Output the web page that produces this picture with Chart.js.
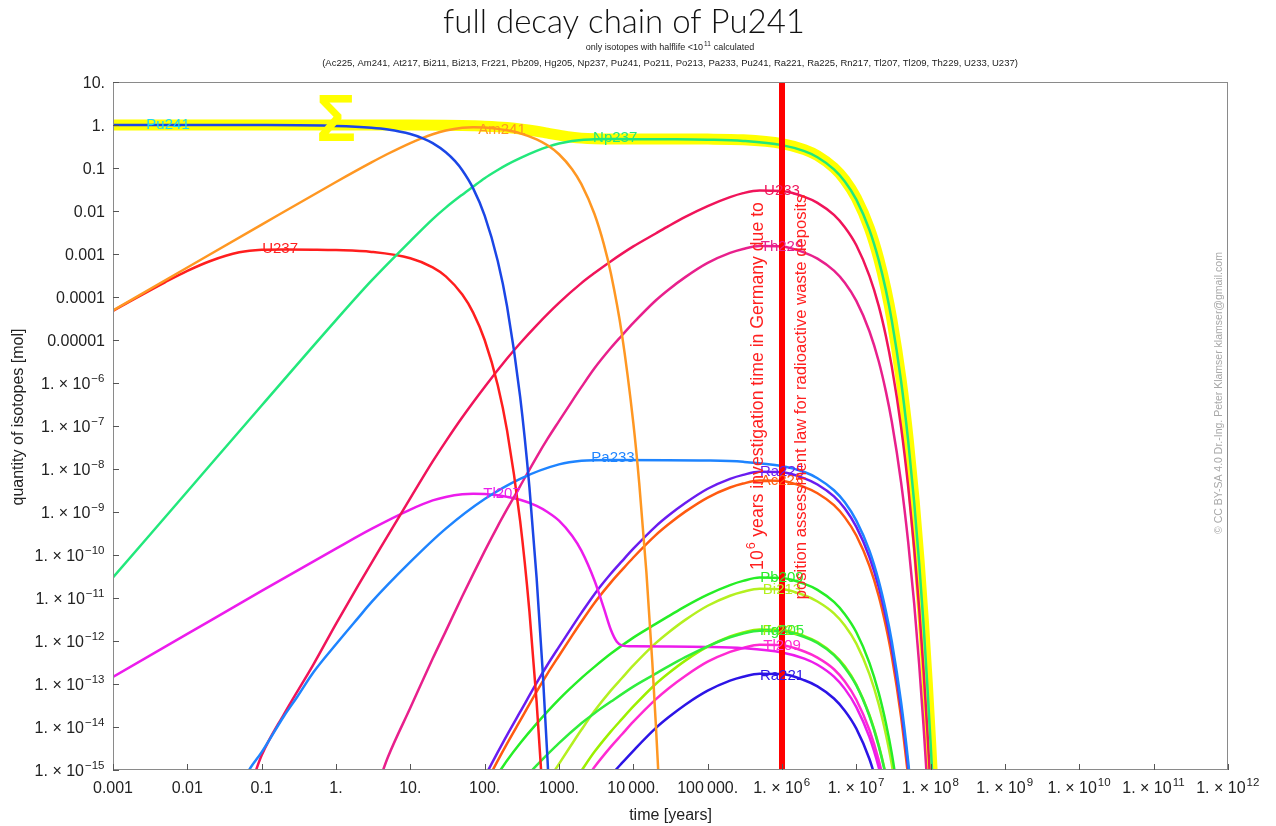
<!DOCTYPE html>
<html>
<head>
<meta charset="utf-8">
<title>full decay chain of Pu241</title>
<script src="https://cdn.jsdelivr.net/npm/chart.js@4.4.1/dist/chart.umd.min.js"></script>
<style>
  html, body { margin: 0; padding: 0; background: #fff; }
  canvas { display: block; }
</style>
</head>
<body>
<canvas id="chart" width="1276" height="826"></canvas>
<script>
// ---- data: [time in years, quantity in mol] ----
const sumAll = [[1e-3,1],[1,1],[10,1],[30,0.99],[50,0.975],[70,0.96],[100,0.94],[150,0.905],[200,0.87],[300,0.81],[500,0.715],[700,0.645],[1000,0.58],[1500,0.52],[2000,0.495],[3000,0.478],[5000,0.473],[1e4,0.472],[3e4,0.472],[1e5,0.47],[3e5,0.454],[1e6,0.37],[2e6,0.268],[3e6,0.194],[5e6,0.101],[7e6,0.053],[1e7,0.02],[1.5e7,3.95e-3],[2e7,7.8e-4],[2.5e7,1.55e-4],[3e7,3.06e-5],[4e7,1.2e-6],[5e7,4.7e-8],[6e7,1.85e-9],[7e7,7.2e-11],[8e7,2.8e-12],[9e7,1.1e-13],[1e8,4.4e-15],[1.1e8,1.7e-16]];
const pu241 = [[1e-3,1],[0.1,0.995],[1,0.953],[3,0.865],[5,0.785],[10,0.616],[15,0.483],[20,0.379],[30,0.233],[40,0.144],[50,0.0885],[70,0.0336],[100,7.8e-3],[150,6.9e-4],[200,6.1e-5],[300,4.8e-7],[400,3.8e-9],[500,2.9e-11],[600,2.3e-13],[700,1.8e-15],[750,1.6e-16]];
const am241 = [[1e-3,4.85e-5],[0.01,4.85e-4],[0.1,4.84e-3],[1,0.0473],[3,0.135],[5,0.2145],[10,0.381],[15,0.51],[20,0.61],[30,0.744],[50,0.863],[70,0.89],[100,0.873],[150,0.813],[200,0.751],[300,0.64],[500,0.465],[700,0.337],[1000,0.209],[1500,0.0938],[2000,0.0421],[3000,8.5e-3],[4000,1.72e-3],[5000,3.47e-4],[7000,1.41e-5],[1e4,1.16e-7],[1.2e4,4.7e-9],[1.5e4,3.9e-11],[1.8e4,3.2e-13],[2e4,1.3e-14],[2.2e4,5.4e-16]];
const u237 = [[1e-3,4.75e-5],[2e-3,9.3e-5],[5e-3,2.2e-4],[0.01,4.05e-4],[0.02,6.8e-4],[0.05,1.095e-3],[0.1,1.256e-3],[0.2,1.28e-3],[0.5,1.262e-3],[1,1.232e-3],[3,1.118e-3],[10,7.96e-4],[20,4.9e-4],[30,3.02e-4],[50,1.14e-4],[70,4.34e-5],[100,1.0e-5],[150,8.9e-7],[200,7.9e-8],[300,6.2e-10],[400,4.9e-12],[500,3.8e-14],[600,3e-16]];
const np237 = [[1e-3,3e-11],[0.01,3e-9],[0.1,3e-7],[1,2.9e-5],[3,2.4e-4],[10,2e-3],[20,6.5e-3],[30,0.012],[50,0.024],[70,0.037],[100,0.058],[150,0.09],[200,0.12],[300,0.17],[500,0.25],[700,0.31],[1000,0.37],[1500,0.425],[2000,0.45],[3000,0.465],[5000,0.47],[1e4,0.4685],[3e4,0.4655],[1e5,0.455],[3e5,0.426],[1e6,0.34],[2e6,0.246],[3e6,0.178],[5e6,0.093],[7e6,0.0487],[1e7,0.0184],[1.5e7,3.64e-3],[2e7,7.2e-4],[2.5e7,1.43e-4],[3e7,2.82e-5],[4e7,1.1e-6],[5e7,4.3e-8],[6e7,1.7e-9],[7e7,6.6e-11],[8e7,2.6e-12],[9e7,1e-13],[1e8,4e-15],[1.1e8,1.6e-16]];
const pa233 = [[0.05,4e-16],[0.07,1.1e-15],[0.1,2.6e-15],[0.2,1.8e-14],[0.3,5e-14],[0.5,1.9e-13],[1,8.4e-13],[2,3.5e-12],[3,8e-12],[10,6.9e-11],[30,4.1e-10],[100,2e-9],[300,5.9e-9],[1000,1.28e-8],[2000,1.55e-8],[5000,1.62e-8],[1e5,1.57e-8],[3e5,1.47e-8],[1e6,1.17e-8],[2e6,8.5e-9],[3e6,6.1e-9],[5e6,3.2e-9],[7e6,1.68e-9],[1e7,6.3e-10],[1.5e7,1.26e-10],[2e7,2.5e-11],[2.5e7,4.9e-12],[3e7,9.7e-13],[4e7,3.8e-14],[5e7,1.5e-15],[6e7,5.9e-17]];
const u233 = [[0.07,4e-16],[0.1,2.2e-15],[0.2,2e-14],[0.5,2.9e-13],[1,2.5e-12],[2,2e-11],[4,1.5e-10],[10,2.1e-9],[20,1.5e-8],[30,4.4e-8],[50,1.6e-7],[100,8.1e-7],[200,3.7e-6],[300,8.4e-6],[500,2.2e-5],[1000,7.3e-5],[2000,2.1e-4],[3000,3.6e-4],[5000,6.8e-4],[1e4,1.5e-3],[2e4,3e-3],[3e4,4.5e-3],[5e4,7.3e-3],[1e5,0.013],[2e5,0.021],[3e5,0.026],[5e5,0.030],[1e6,0.029],[2e6,0.0213],[3e6,0.0155],[5e6,8.1e-3],[7e6,4.2e-3],[1e7,1.6e-3],[1.5e7,3.1e-4],[2e7,6.2e-5],[2.5e7,1.22e-5],[3e7,2.4e-6],[4e7,9.4e-8],[5e7,3.7e-9],[6e7,1.44e-10],[7e7,5.7e-12],[8e7,2.2e-13],[9e7,8.7e-15],[1e8,3.4e-16]];
const th229 = [[4,7e-16],[5,2e-15],[10,2.8e-14],[20,3.9e-13],[30,1.7e-12],[50,1.1e-11],[70,3.6e-11],[100,1.23e-10],[150,4.7e-10],[200,1.16e-9],[300,4e-9],[500,1.9e-8],[700,5e-8],[1000,1.3e-7],[1500,3.8e-7],[2000,8e-7],[3000,2.2e-6],[5000,6.6e-6],[7000,1.27e-5],[1e4,2.5e-5],[2e4,8.3e-5],[3e4,1.5e-4],[5e4,2.9e-4],[1e5,6.2e-4],[2e5,1.06e-3],[3e5,1.31e-3],[5e5,1.54e-3],[1e6,1.5e-3],[2e6,1.08e-3],[3e6,7.8e-4],[5e6,4.1e-4],[7e6,2.15e-4],[1e7,8.1e-5],[1.5e7,1.6e-5],[2e7,3.2e-6],[2.5e7,6.3e-7],[3e7,1.25e-7],[4e7,4.9e-9],[5e7,1.9e-10],[6e7,7.5e-12],[7e7,2.9e-13],[8e7,1.14e-14],[9e7,4.5e-16]];
const tl207 = [[1e-3,1.46e-13],[0.01,1.46e-12],[0.1,1.46e-11],[1,1.41e-10],[3,4.05e-10],[10,1.14e-9],[20,1.86e-9],[30,2.24e-9],[50,2.59e-9],[70,2.67e-9],[100,2.62e-9],[150,2.44e-9],[200,2.25e-9],[300,1.92e-9],[500,1.39e-9],[700,1.0e-9],[1000,6.3e-10],[1500,2.8e-10],[2000,1.26e-10],[3000,2.55e-11],[4000,5.9e-12],[5000,1.8e-12],[6000,9.6e-13],[7000,7.9e-13],[1e4,7.5e-13],[3e4,7.45e-13],[1e5,7.3e-13],[3e5,6.8e-13],[1e6,5.4e-13],[2e6,3.9e-13],[3e6,2.8e-13],[5e6,1.48e-13],[7e6,7.7e-14],[1e7,2.9e-14],[1.5e7,5.8e-15],[2e7,1.15e-15],[2.5e7,2.3e-16]];
const ra225 = [[100,6.9e-16],[150,2.6e-15],[200,6.5e-15],[300,2.24e-14],[500,1.06e-13],[700,2.8e-13],[1000,7.3e-13],[1500,2.13e-12],[2000,4.5e-12],[3000,1.23e-11],[5000,3.7e-11],[7000,7.1e-11],[1e4,1.4e-10],[2e4,4.65e-10],[3e4,8.4e-10],[5e4,1.62e-9],[1e5,3.47e-9],[2e5,5.9e-9],[3e5,7.3e-9],[5e5,8.6e-9],[1e6,8.4e-9],[2e6,6.05e-9],[3e6,4.37e-9],[5e6,2.3e-9],[7e6,1.2e-9],[1e7,4.5e-10],[1.5e7,9e-11],[2e7,1.8e-11],[2.5e7,3.5e-12],[3e7,7e-13],[4e7,2.7e-14],[5e7,1.06e-15],[6e7,4.2e-17]];
const ac225 = [[100,4.3e-16],[150,1.65e-15],[200,4.1e-15],[300,1.4e-14],[500,6.65e-14],[700,1.75e-13],[1000,4.55e-13],[1500,1.33e-12],[2000,2.8e-12],[3000,7.7e-12],[5000,2.31e-11],[7000,4.45e-11],[1e4,8.75e-11],[2e4,2.9e-10],[3e4,5.25e-10],[5e4,1.02e-9],[1e5,2.17e-9],[2e5,3.71e-9],[3e5,4.59e-9],[5e5,5.39e-9],[1e6,5.25e-9],[2e6,3.78e-9],[3e6,2.73e-9],[5e6,1.44e-9],[7e6,7.5e-10],[1e7,2.84e-10],[1.5e7,5.6e-11],[2e7,1.12e-11],[2.5e7,2.2e-12],[3e7,4.4e-13],[4e7,1.7e-14],[5e7,6.7e-16]];
const pb209 = [[150,8e-16],[200,1.67e-15],[300,4.2e-15],[500,1.2e-14],[1000,4.4e-14],[2000,1.37e-13],[3000,2.5e-13],[5000,5.1e-13],[1e4,1.2e-12],[2e4,2.5e-12],[3e4,3.8e-12],[5e4,6.4e-12],[1e5,1.2e-11],[2e5,2e-11],[3e5,2.5e-11],[5e5,3e-11],[1e6,2.9e-11],[2e6,2.13e-11],[3e6,1.55e-11],[5e6,8.1e-12],[7e6,4.2e-12],[1e7,1.6e-12],[1.5e7,3.1e-13],[2e7,6.2e-14],[2.5e7,1.22e-14],[3e7,2.4e-15],[4e7,9.4e-17]];
const bi213 = [[700,5.35e-16],[1000,1.39e-15],[1500,4.07e-15],[2000,8.6e-15],[3000,2.35e-14],[5000,7.1e-14],[7000,1.36e-13],[1e4,2.7e-13],[2e4,8.9e-13],[3e4,1.6e-12],[5e4,3.1e-12],[1e5,6.6e-12],[2e5,1.13e-11],[3e5,1.4e-11],[5e5,1.65e-11],[1e6,1.6e-11],[2e6,1.16e-11],[3e6,8.3e-12],[5e6,4.4e-12],[7e6,2.3e-12],[1e7,8.7e-13],[1.5e7,1.7e-13],[2e7,3.4e-14],[2.5e7,6.7e-15],[3e7,1.34e-15],[4e7,5.2e-17]];
const hg205 = [[300,4.9e-16],[500,1.28e-15],[1000,4.2e-15],[2000,1.22e-14],[3000,2.1e-14],[5000,3.9e-14],[1e4,8.7e-14],[2e4,1.74e-13],[3e4,2.6e-13],[5e4,4.2e-13],[1e5,7.5e-13],[2e5,1.22e-12],[3e5,1.5e-12],[5e5,1.74e-12],[1e6,1.68e-12],[2e6,1.24e-12],[3e6,9e-13],[5e6,4.7e-13],[7e6,2.4e-13],[1e7,9.3e-14],[1.5e7,1.8e-14],[2e7,3.6e-15],[2.5e7,7.1e-16],[3e7,1.4e-16]];
const fr221 = [[1500,4.6e-16],[2000,9.6e-16],[3000,2.64e-15],[5000,7.9e-15],[7000,1.52e-14],[1e4,3e-14],[2e4,1e-13],[3e4,1.8e-13],[5e4,3.5e-13],[1e5,7.4e-13],[2e5,1.27e-12],[3e5,1.57e-12],[5e5,1.85e-12],[1e6,1.8e-12],[2e6,1.3e-12],[3e6,9.4e-13],[5e6,4.9e-13],[7e6,2.6e-13],[1e7,9.7e-14],[1.5e7,1.9e-14],[2e7,3.8e-15],[2.5e7,7.6e-16],[3e7,1.5e-16]];
const tl209 = [[1500,2e-16],[2000,4.2e-16],[3000,1.17e-15],[5000,3.5e-15],[7000,6.7e-15],[1e4,1.33e-14],[2e4,4.4e-14],[3e4,8e-14],[5e4,1.54e-13],[1e5,3.3e-13],[2e5,5.6e-13],[3e5,6.9e-13],[5e5,8.2e-13],[1e6,8e-13],[2e6,5.7e-13],[3e6,4.1e-13],[5e6,2.2e-13],[7e6,1.14e-13],[1e7,4.3e-14],[1.5e7,8.5e-15],[2e7,1.7e-15],[2.5e7,3.3e-16]];
const ra221 = [[3000,2.5e-16],[5000,7.5e-16],[7000,1.44e-15],[1e4,2.8e-15],[2e4,9.4e-15],[3e4,1.7e-14],[5e4,3.3e-14],[1e5,7e-14],[2e5,1.2e-13],[3e5,1.48e-13],[5e5,1.74e-13],[1e6,1.7e-13],[2e6,1.22e-13],[3e6,8.8e-14],[5e6,4.6e-14],[7e6,2.4e-14],[1e7,9.2e-15],[1.5e7,1.8e-15],[2e7,3.6e-16]];

// the 10^6 years assessment horizon
const markYear = 1e6;

// curve labels, anchored in data units
const labelText = ['Pu241', 'Am241', 'Np237', 'U237', 'U233', 'Th229', 'Pa233', 'Tl207', 'Ra225', 'Ac225', 'Pb209', 'Bi213', 'Fr221', 'Hg205', 'Tl209', 'Ra221'];
const labelT = [0.0055, 171, 5700, 0.177, 1e6, 1e6, 5330, 171, 1e6, 1e6, 1e6, 1e6, 1e6, 1e6, 1e6, 1e6];
const labelN = [1, 0.765, 0.5, 1.3e-3, 0.029, 1.45e-3, 1.8e-8, 2.6e-9, 8.5e-9, 5.2e-9, 2.9e-11, 1.55e-11, 1.7e-12, 1.7e-12, 7.6e-13, 1.55e-13];
const sigmaAt = [1, 1.1];

// axis ticks
const xTickValues = [1e-3, 1e-2, 0.1, 1, 10, 100, 1e3, 1e4, 1e5, 1e6, 1e7, 1e8, 1e9, 1e10, 1e11, 1e12];
const xTickLabels = ['0.001', '0.01', '0.1', '1.', '10.', '100.', '1000.', '10\u2009000.', '100\u2009000.',
  '1. \u00d7 10^{6}', '1. \u00d7 10^{7}', '1. \u00d7 10^{8}', '1. \u00d7 10^{9}', '1. \u00d7 10^{10}', '1. \u00d7 10^{11}', '1. \u00d7 10^{12}'];
const yTickValues = [10, 1, 0.1, 0.01, 1e-3, 1e-4, 1e-5, 1e-6, 1e-7, 1e-8, 1e-9, 1e-10, 1e-11, 1e-12, 1e-13, 1e-14, 1e-15];
const yTickLabels = ['10.', '1.', '0.1', '0.01', '0.001', '0.0001', '0.00001',
  '1. \u00d7 10^{\u22126}', '1. \u00d7 10^{\u22127}', '1. \u00d7 10^{\u22128}', '1. \u00d7 10^{\u22129}', '1. \u00d7 10^{\u221210}',
  '1. \u00d7 10^{\u221211}', '1. \u00d7 10^{\u221212}', '1. \u00d7 10^{\u221213}', '1. \u00d7 10^{\u221214}', '1. \u00d7 10^{\u221215}'];

// texts
const titleText = 'full decay chain of Pu241';
const subtitleText = 'only isotopes with halflife <10^{11} calculated';
const isotopeListText = '(Ac225, Am241, At217, Bi211, Bi213, Fr221, Pb209, Hg205, Np237, Pu241, Po211, Po213, Pa233, Pu241, Ra221, Ra225, Rn217, Tl207, Tl209, Th229, U233, U237)';
const noteLines = ['10^{6} years investigation time in Germany due to', 'position assessment law for radioactive waste deposits'];
const creditText = '\u00a9 CC BY-SA 4.0 Dr.-Ing. Peter Klamser klamser@gmail.com';

// styles
const FONT = '"Liberation Sans", Arial, Helvetica, sans-serif';
const colors = {
  sum: '#ffff00', Pu241: '#1b46e6', Am241: '#ff9722', Np237: '#22e87c', U237: '#ff1e1e',
  Pa233: '#1e84ff', U233: '#f0145a', Th229: '#e8208c', Tl207: '#ec1cec', Ra225: '#6a1cf0',
  Ac225: '#ff5a10', Pb209: '#26ee26', Bi213: '#b4f020', Hg205: '#30ee3c', Fr221: '#9cf000',
  Tl209: '#ff2ad2', Ra221: '#2c14e6', mark: '#ff0000'
};
const labelColors = {Pu241: '#19d9f0'};

const series = [
  ['Pu241', pu241], ['Am241', am241], ['Np237', np237], ['U237', u237], ['Hg205', hg205], ['Fr221', fr221],
  ['Pa233', pa233], ['U233', u233], ['Th229', th229], ['Tl207', tl207], ['Tl209', tl209], ['Ra225', ra225],
  ['Ac225', ac225], ['Pb209', pb209], ['Bi213', bi213], ['Ra221', ra221]
];

const toXY = pts => pts.map(p => ({x: p[0], y: p[1]}));

const datasets = series.map(([name, pts], i) => ({
  label: name,
  data: toXY(pts),
  borderColor: colors[name],
  borderWidth: 2.5,
  order: 2 + i
}));
datasets.push({label: 'sum', data: toXY(sumAll), borderColor: colors.sum, borderWidth: 11, order: 40});
datasets.push({label: 'mark', data: [{x: markYear, y: 1e-16}, {x: markYear, y: 100}], borderColor: colors.mark,
  borderWidth: 6, order: 0, cubicInterpolationMode: 'default', tension: 0});

// text with ^{...} superscripts
function richWidths(ctx, parts, size) {
  return parts.map((p, i) => {
    ctx.font = `${i % 2 ? size * 0.72 : size}px ${FONT}`;
    return ctx.measureText(p).width + (i % 2 ? 1.5 : 0);
  });
}
function richWidth(ctx, str, size) {
  return richWidths(ctx, str.split(/\^\{|\}/), size).reduce((a, b) => a + b, 0);
}
// baseline at y
function drawRich(ctx, str, x, y, align, size) {
  const parts = str.split(/\^\{|\}/);
  const widths = richWidths(ctx, parts, size);
  const total = widths.reduce((a, b) => a + b, 0);
  let cx = align === 'right' ? x - total : align === 'center' ? x - total / 2 : x;
  ctx.textAlign = 'left';
  ctx.textBaseline = 'alphabetic';
  parts.forEach((p, i) => {
    ctx.font = `${i % 2 ? size * 0.72 : size}px ${FONT}`;
    ctx.fillText(p, cx + (i % 2 ? 1 : 0), i % 2 ? y - size * 0.42 : y);
    cx += widths[i];
  });
}

const decorations = {
  id: 'decorations',
  afterDatasetsDraw(chart) {
    const {ctx, scales: {x, y}} = chart;
    ctx.save();

    // curve labels
    ctx.font = `15px ${FONT}`;
    ctx.textAlign = 'center';
    ctx.textBaseline = 'middle';
    labelText.forEach((t, i) => {
      ctx.fillStyle = labelColors[t] || colors[t];
      ctx.fillText(t, x.getPixelForValue(labelT[i]), y.getPixelForValue(labelN[i]));
    });

    // sum marker
    ctx.font = `bold 66px ${FONT}`;
    ctx.fillStyle = colors.sum;
    ctx.fillText('\u03a3', x.getPixelForValue(sigmaAt[0]), y.getPixelForValue(sigmaAt[1]));

    // note along the 10^6 years line: [text, x offset, centre y, length]
    const xr = x.getPixelForValue(markYear);
    ctx.fillStyle = '#ff2020';
    [[noteLines[0], -25, 386, 368], [noteLines[1], 18, 397, 405]].forEach(([txt, dx, cy, len]) => {
      const size = 16 * len / richWidth(ctx, txt, 16);
      ctx.save();
      ctx.translate(xr + dx, cy);
      ctx.rotate(-Math.PI / 2);
      drawRich(ctx, txt, 0, size * 0.33, 'center', size);
      ctx.restore();
    });

    // credit
    ctx.save();
    ctx.translate(1219, 393);
    ctx.rotate(-Math.PI / 2);
    ctx.fillStyle = '#a8a8a8';
    ctx.font = `10.5px ${FONT}`;
    ctx.textAlign = 'center';
    ctx.textBaseline = 'middle';
    ctx.fillText(creditText, 0, 0);
    ctx.restore();

    ctx.restore();
  },
  afterDraw(chart) {
    const {ctx, chartArea: {left, right, top, bottom}, scales: {x, y}} = chart;
    ctx.save();

    // frame and inward ticks
    ctx.strokeStyle = '#8a8a8a';
    ctx.lineWidth = 1;
    ctx.strokeRect(left + 0.5, top + 0.5, right - left - 1, bottom - top - 1);
    ctx.strokeStyle = '#555';
    ctx.beginPath();
    xTickValues.forEach(v => {
      const px = Math.round(x.getPixelForValue(v)) + 0.5;
      ctx.moveTo(px, bottom);
      ctx.lineTo(px, bottom - 6);
    });
    yTickValues.forEach(v => {
      const py = Math.round(y.getPixelForValue(v)) + 0.5;
      ctx.moveTo(left, py);
      ctx.lineTo(left + 6, py);
    });
    ctx.stroke();

    // tick labels
    ctx.fillStyle = '#222';
    xTickValues.forEach((v, i) => drawRich(ctx, xTickLabels[i], x.getPixelForValue(v), bottom + 23, 'center', 16));
    yTickValues.forEach((v, i) => drawRich(ctx, yTickLabels[i], left - 8, y.getPixelForValue(v) + 6, 'right', 16));

    // axis titles
    ctx.font = `16px ${FONT}`;
    ctx.textAlign = 'center';
    ctx.textBaseline = 'alphabetic';
    ctx.fillText('time [years]', (left + right) / 2, 820);
    ctx.save();
    ctx.translate(23, 417);
    ctx.rotate(-Math.PI / 2);
    ctx.fillText('quantity of isotopes [mol]', 0, 0);
    ctx.restore();

    // titles
    ctx.fillStyle = '#111';
    ctx.font = `300 100px Lato, ${FONT}`;
    const titleSize = 100 * 362 / ctx.measureText(titleText).width;
    ctx.font = `300 ${titleSize}px Lato, ${FONT}`;
    ctx.textAlign = 'center';
    ctx.fillText(titleText, 624, 33);
    ctx.fillStyle = '#222';
    drawRich(ctx, subtitleText, 670, 50, 'center', 9);
    ctx.font = `9.5px ${FONT}`;
    ctx.textAlign = 'center';
    ctx.fillText(isotopeListText, 670, 66);

    ctx.restore();
  }
};

new Chart(document.getElementById('chart'), {
  type: 'scatter',
  data: {datasets},
  options: {
    responsive: false,
    animation: false,
    devicePixelRatio: 1,
    events: [],
    layout: {padding: {left: 0, right: 48, top: 82, bottom: 0}},
    elements: {
      point: {radius: 0},
      line: {cubicInterpolationMode: 'monotone', fill: false}
    },
    datasets: {scatter: {showLine: true, clip: 0}},
    scales: {
      x: {
        type: 'logarithmic', min: 1e-3, max: 1e12,
        ticks: {display: false}, grid: {display: false}, border: {display: false},
        afterFit: s => { s.height = 56; }
      },
      y: {
        type: 'logarithmic', min: 1e-15, max: 10,
        ticks: {display: false}, grid: {display: false}, border: {display: false},
        afterFit: s => { s.width = 113; }
      }
    },
    plugins: {legend: {display: false}, tooltip: {enabled: false}}
  },
  plugins: [decorations]
});
</script>
</body>
</html>
